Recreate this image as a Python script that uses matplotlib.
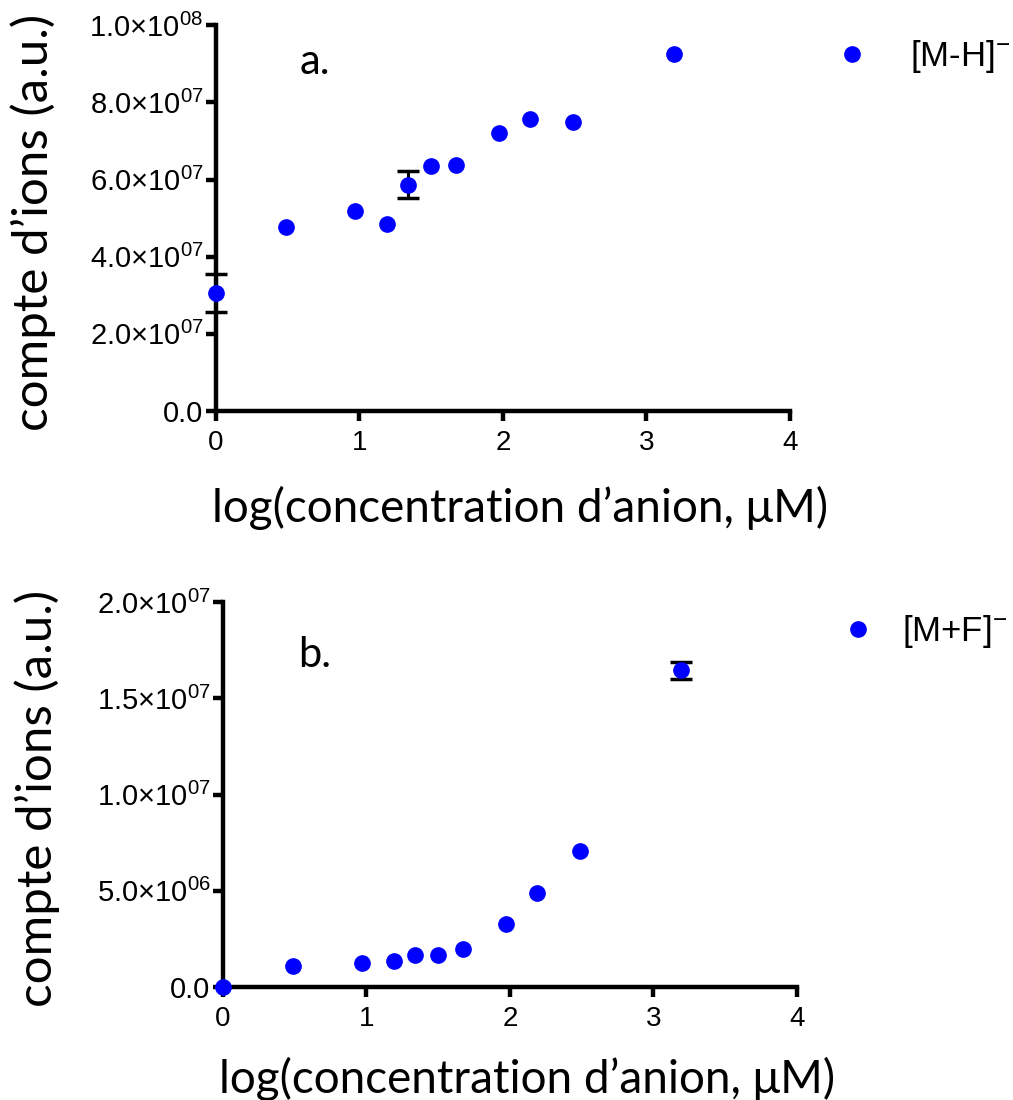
import numpy as np
import matplotlib
matplotlib.use('Agg')
import matplotlib.pyplot as plt
from matplotlib.ticker import FuncFormatter

plt.rcParams['font.family'] = ['Liberation Sans', 'DejaVu Sans']
plt.rcParams['mathtext.default'] = 'regular'

# log(concentration) values, shared by both panels
log_conc = [0.0, 0.49, 0.97, 1.19, 1.34, 1.50, 1.67, 1.97, 2.19, 2.49, 3.19]

# panel a: [M-H]-
mh_counts = [3.06e7, 4.76e7, 5.19e7, 4.86e7, 5.87e7, 6.34e7, 6.39e7, 7.22e7, 7.56e7, 7.50e7, 9.25e7]
mh_err = [0.50e7, 0, 0, 0, 0.36e7, 0, 0, 0, 0, 0, 0]

# panel b: [M+F]-
mf_counts = [0.0, 1.09e6, 1.25e6, 1.35e6, 1.66e6, 1.68e6, 1.97e6, 3.27e6, 4.88e6, 7.07e6, 1.645e7]
mf_err = [0, 0, 0, 0, 0, 0, 0, 0, 0, 0, 0.045e7]

x_ticks = [0, 1, 2, 3, 4]
label_font = 'Lato'
xlabel = 'log(concentration d\u2019anion, \u03bcM)'
ylabel = 'compte d\u2019ions (a.u.)'


def sci_fmt(v, pos):
    if v == 0:
        return '0.0'
    e = int(np.floor(np.log10(abs(v))))
    m = v / 10**e
    return '%.1f\u00d710$^{%02d}$' % (m, e)


def panel(ax, y, err, ymax, yticks, letter, letter_pos, leg_label, leg_pos, leg_pad,
          ylab_x, xlab_y):
    x = np.array(log_conc)
    y = np.array(y)
    err = np.array(err)
    m = err > 0
    ax.errorbar(x[m], y[m], yerr=err[m], fmt='none', ecolor='black',
                elinewidth=2.2, capsize=8, capthick=2.5, zorder=2, clip_on=False)
    ax.plot(x, y, 'o', color='#0000ff', markersize=11, label=leg_label,
            zorder=3, clip_on=False)
    ax.set_xlim(0, 4)
    ax.set_ylim(0, ymax)
    ax.set_xticks(x_ticks)
    ax.set_yticks(yticks)
    ax.yaxis.set_major_formatter(FuncFormatter(sci_fmt))
    for s in ['top', 'right']:
        ax.spines[s].set_visible(False)
    for s in ['left', 'bottom']:
        ax.spines[s].set_linewidth(3.2)
    ax.tick_params(width=3.2, length=7, direction='out')
    ax.tick_params(axis='y', labelsize=21, pad=2)
    ax.tick_params(axis='x', labelsize=20, pad=7)
    ax.set_xlabel(xlabel, fontsize=33, family=label_font)
    ax.set_ylabel(ylabel, fontsize=35.5, family=label_font)
    ax.xaxis.set_label_coords(0.53, xlab_y)
    ax.yaxis.set_label_coords(ylab_x, 0.49)
    ax.text(letter_pos[0], letter_pos[1], letter, transform=ax.transAxes, fontsize=30,
            family=label_font, va='center', ha='center')
    ax.legend(loc='upper left', bbox_to_anchor=leg_pos, bbox_transform=ax.figure.transFigure,
              frameon=False, fontsize=25, handletextpad=leg_pad, markerscale=1.0,
              handlelength=1.5, borderaxespad=0)


fig = plt.figure(figsize=(10.13, 11.0), dpi=100)
ax1 = fig.add_axes([0.2132, 0.6264, 0.5666, 0.3506])
ax2 = fig.add_axes([0.2201, 0.1027, 0.5666, 0.3500])

panel(ax1, mh_counts, mh_err, 1.0e8, [0, 2e7, 4e7, 6e7, 8e7, 1e8], 'a.', (0.172, 0.904),
      '[M-H]$^{-}$', (0.802, 0.978), 0.9, -0.278, -0.195)
panel(ax2, mf_counts, mf_err, 2.0e7, [0, 5e6, 1e7, 1.5e7, 2e7], 'b.', (0.16, 0.862),
      '[M+F]$^{-}$', (0.808, 0.455), 0.5, -0.284, -0.18)

fig.savefig('out.png', dpi=100)
